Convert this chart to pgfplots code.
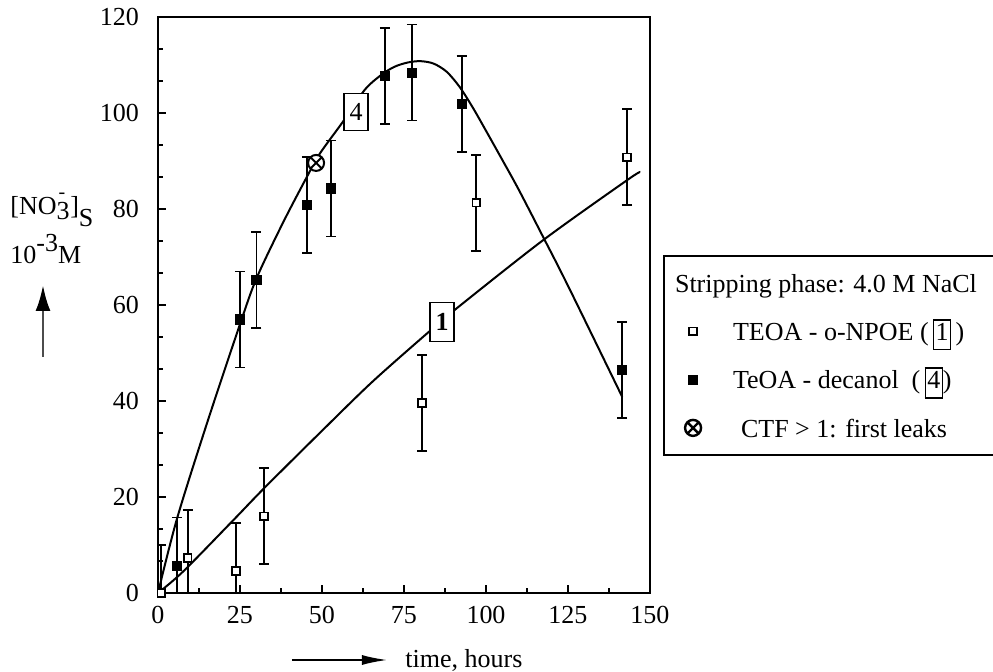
\documentclass[border=0pt]{standalone}
\usepackage{fontspec}
\setmainfont{Liberation Serif}
\usepackage{pgfplots}
\pgfplotsset{compat=1.18}
\usetikzlibrary{arrows.meta}

% tall framed digit used as curve label
\newcommand\bx[1]{{\setlength\fboxsep{0.6pt}\setlength\fboxrule{0.7pt}\fbox{\rule[-3.5pt]{0pt}{13pt}#1}}}
\newcommand\fs{\fontsize{13}{15.6}\selectfont}
\newcommand\st{\rule[-4.8pt]{0pt}{15.6pt}}

% TEOA - o-NPOE (membrane 1)
\pgfplotstableread{
x     y     e
1     0     10
9.1   7.3   10
23.8  4.6   10
32.3  16.0  10
80.5  39.6  10
97.0  81.3  10
143.0 90.8  10
}\npoe

% TeOA - decanol (membrane 4)
\pgfplotstableread{
x     y     e
5.8   5.7   10
25.0  57.0  10
30.0  65.2  10
45.4  80.8  10
52.7  84.3  10
69.2  107.7 10
77.4  108.4 10
92.6  101.9 10
141.5 46.5  10
}\decanol

\begin{document}
\begin{tikzpicture}[font=\fs]
\begin{axis}[name=ax, scale only axis, width=246pt, height=288pt,
  xmin=0, xmax=150, ymin=0, ymax=120,
  xtick={0,25,...,150}, ytick={0,20,...,120},
  minor x tick num=1, minor y tick num=2,
  tick align=inside, xtick pos=bottom, ytick pos=left,
  major tick length=4pt, minor tick length=2.5pt,
  axis line style={line width=1.2pt},
  every tick/.style={line width=1pt, black},
  tick label style={font=\fs},
  xticklabel style={yshift=-3pt},
  yticklabel style={xshift=-6pt},
  /pgf/number format/assume math mode=true,
  legend cell align=left,
  legend style={at={(1.0264,0.5868)}, anchor=north west, draw=black,
    line width=1pt, inner xsep=6pt, inner ysep=5.5pt, row sep=7.8pt,
    column sep=14pt, font=\fs},
]
% fitted curves
\addplot[smooth, line width=1pt, forget plot] coordinates {
 (0,0) (5.8,15.5) (15,35.5) (25,56) (30,65.5) (38,77)
 (45.4,86.7) (49.4,91.6) (56.4,98.2) (63,104.8) (68,107.9) (72,109.6)
 (76,110.5) (80,110.8) (84,110.3) (88,108.6) (92,105.4) (96,101.1)
 (100,96.3) (105,90.2) (110,84) (117.4,74.2) (125,64) (141.5,40.9)};
\addplot[smooth, line width=1pt, forget plot] coordinates {
 (0,0) (7.7,4.5) (23,15.2) (32.6,22) (50.3,34) (65.5,44.1) (82.9,54.6)
 (90.5,59) (117.4,73.5) (143,86) (147,87.7)};
% measured points with error bars
\addplot[only marks, mark=square*, mark size=1.9pt,
  mark options={fill=white, line width=0.8pt}, forget plot,
  error bars/.cd, y dir=both, y explicit,
  error bar style={line width=0.8pt},
  error mark options={rotate=90, mark size=2.5pt, line width=0.8pt}]
  table[x=x, y=y, y error=e] {\npoe};
\addplot[only marks, mark=square*, mark size=2.3pt, fill=black, forget plot,
  error bars/.cd, y dir=both, y explicit,
  error bar style={line width=0.8pt},
  error mark options={rotate=90, mark size=2.5pt, line width=0.8pt}]
  table[x=x, y=y, y error=e] {\decanol};
% first leak (CTF > 1)
\addplot[only marks, mark=otimes*, mark size=4pt,
  mark options={fill=white, line width=1pt}, forget plot]
  coordinates {(48.2,89.6)};
\node[draw, fill=white, line width=0.8pt, minimum width=12pt,
  minimum height=18.5pt, inner sep=0pt] at (axis cs:60.4,100.2) {4};
\node[draw, fill=white, line width=0.8pt, minimum width=12pt,
  minimum height=19.5pt, inner sep=0pt] at (axis cs:86.6,56.5) {\textbf{1}};
% legend
\addlegendimage{empty legend}
\addlegendentry{\hspace*{-29pt}\st Stripping phase: 4.0 M NaCl\hspace*{12pt}}
\addlegendimage{only marks, mark=square*, mark size=1.9pt,
  mark options={fill=white, line width=0.8pt}}
\addlegendentry{\st TEOA - o-NPOE (\,\bx{1}\,)}
\addlegendimage{only marks, mark=square*, mark size=2pt, fill=black}
\addlegendentry{\st TeOA - decanol \ (\,\bx{4})}
\addlegendimage{only marks, mark=otimes*, mark size=4pt,
  mark options={fill=white, line width=1.2pt}}
\addlegendentry{\rule[-15.5pt]{0pt}{26.3pt}\hspace*{4pt}CTF > 1: first leaks}
\end{axis}
% axis descriptions
\node[anchor=west, inner sep=0pt] at ([shift={(-74pt,191.5pt)}]ax.south west)
  {[NO\raisebox{-2.5pt}{3}\kern-5.5pt\raisebox{8pt}{\fontsize{10}{10}\selectfont -}\kern2.5pt]\raisebox{-6pt}{S}};
\node[anchor=west, inner sep=0pt] at ([shift={(-74pt,172pt)}]ax.south west)
  {10\raisebox{6pt}{-3}M};
\draw[line width=1.4pt, gray!60!black, -{Latex[length=13pt, width=7.5pt, color=black]}]
  ([shift={(-57.5pt,118pt)}]ax.south west) -- ([shift={(-57.5pt,154pt)}]ax.south west);
\draw[line width=0.8pt, -{Latex[length=12.5pt, width=5pt]}]
  ([shift={(67pt,-33.5pt)}]ax.south west) -- ([shift={(114.5pt,-33.5pt)}]ax.south west);
\node[anchor=west, inner sep=0pt] at ([shift={(123.5pt,-33.5pt)}]ax.south west)
  {time, hours};
\pgfresetboundingbox
\path[use as bounding box] ([shift={(-79pt,-39pt)}]ax.south west)
  rectangle ([shift={(417.5pt,296.5pt)}]ax.south west);
\end{tikzpicture}
\end{document}
